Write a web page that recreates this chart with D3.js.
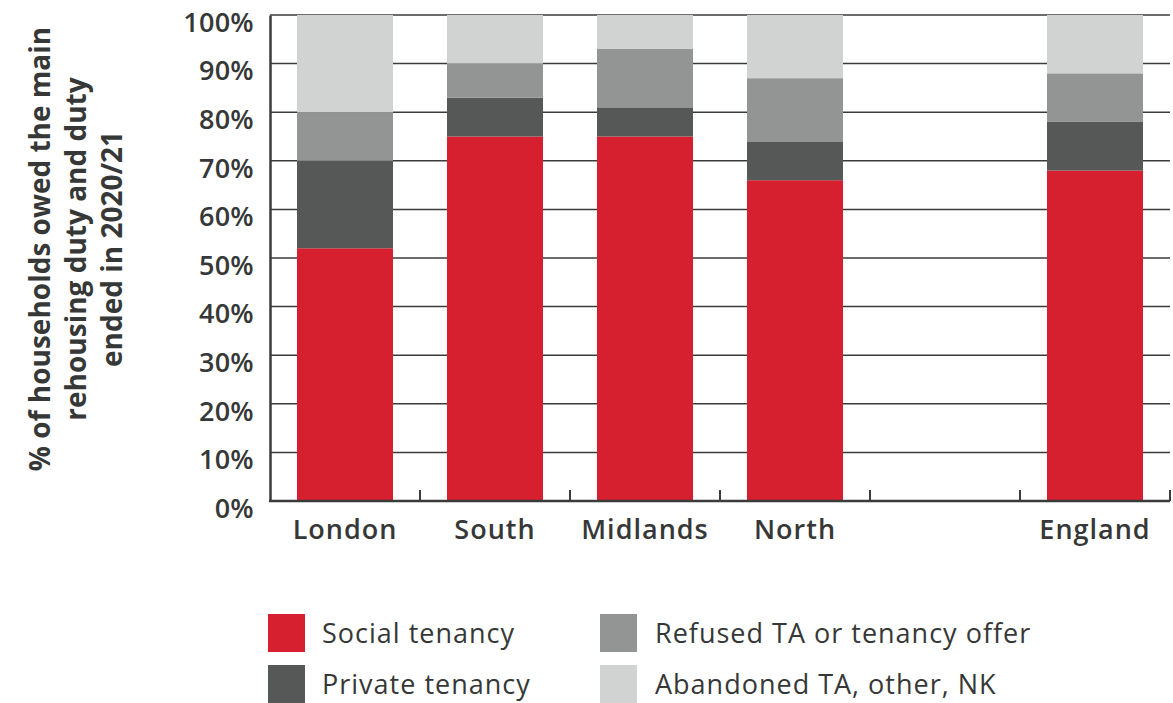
<!DOCTYPE html>
<html>
<head>
<meta charset="utf-8">
<script src="https://cdn.jsdelivr.net/npm/d3@7"></script>
<style>
  body { margin: 0; background: #fff; }
  text { font-family: "Open Sans", sans-serif; fill: #363837; }
</style>
</head>
<body>
<div id="chart"></div>
<script>
// data (percent of households)
var regions = ["London", "South", "Midlands", "North", "", "England"];
var seriesNames = ["Social tenancy", "Private tenancy", "Refused TA or tenancy offer", "Abandoned TA, other, NK"];
var socialTenancy = [52, 75, 75, 66, null, 68];
var privateTenancy = [18, 8, 6, 8, null, 10];
var refusedOffer = [10, 7, 12, 13, null, 10];
var abandonedOther = [20, 10, 7, 13, null, 12];
var yTicks = [0, 10, 20, 30, 40, 50, 60, 70, 80, 90, 100];
var colours = ["#d6202f", "#565857", "#939594", "#d1d3d2"];

var width = 1173, height = 703;
var margin = {top: 15, right: 3, bottom: 202, left: 270};

var svg = d3.select("#chart")
    .append("svg")
    .attr("width", width)
    .attr("height", height);

var x = d3.scaleBand()
    .domain(d3.range(regions.length))
    .range([margin.left, width - margin.right])
    .paddingInner(0.36)
    .paddingOuter(0.18);

var y = d3.scaleLinear()
    .domain([0, 100])
    .range([height - margin.bottom, margin.top]);

// build rows for the stack
var rows = regions.map(function(r, i) {
  return {
    i: i,
    s0: socialTenancy[i] || 0,
    s1: privateTenancy[i] || 0,
    s2: refusedOffer[i] || 0,
    s3: abandonedOther[i] || 0,
    empty: socialTenancy[i] == null
  };
}).filter(function(d) { return !d.empty; });

var stack = d3.stack().keys(["s0", "s1", "s2", "s3"]);
var stacked = stack(rows);

// gridlines
svg.append("g")
  .selectAll("line")
  .data(yTicks.filter(function(t) { return t > 0; }))
  .join("line")
    .attr("x1", margin.left)
    .attr("x2", width - margin.right)
    .attr("y1", function(d) { return y(d); })
    .attr("y2", function(d) { return y(d); })
    .attr("stroke", "#3a3b3b")
    .attr("stroke-width", 1.5);

// bars
svg.append("g")
  .selectAll("g")
  .data(stacked)
  .join("g")
    .attr("fill", function(d, k) { return colours[k]; })
  .selectAll("rect")
  .data(function(d) { return d; })
  .join("rect")
    .attr("x", function(d) { return x(d.data.i); })
    .attr("width", x.bandwidth())
    .attr("y", function(d) { return y(d[1]); })
    .attr("height", function(d) { return y(d[0]) - y(d[1]); });

// y axis
var yAxis = svg.append("g")
    .attr("transform", "translate(" + margin.left + ",0)")
    .call(d3.axisLeft(y).tickValues(yTicks).tickSize(0).tickPadding(16)
      .tickFormat(function(d) { return d + "%"; }));
yAxis.select(".domain").attr("stroke", "#3a3b3b").attr("stroke-width", 2.5);
yAxis.selectAll("text")
    .attr("dy", "0.6em")
    .style("font-size", "27px")
    .style("font-weight", 600)
    .style("letter-spacing", "0.3px")
    .attr("fill", "#363837");

// x axis: ticks between bands pointing up
var xBase = y(0);
var tickPos = d3.range(regions.length).map(function(i) { return x(i) + x.bandwidth() + x.step() * x.paddingInner() / 2; });
svg.append("line")
    .attr("x1", margin.left - 1)
    .attr("x2", width - margin.right)
    .attr("y1", xBase)
    .attr("y2", xBase)
    .attr("stroke", "#3a3b3b")
    .attr("stroke-width", 2.5);
svg.append("g")
  .selectAll("line")
  .data(tickPos)
  .join("line")
    .attr("x1", function(d) { return d; })
    .attr("x2", function(d) { return d; })
    .attr("y1", xBase)
    .attr("y2", xBase - 11)
    .attr("stroke", "#3a3b3b")
    .attr("stroke-width", 2);

svg.append("g")
  .selectAll("text")
  .data(regions)
  .join("text")
    .attr("x", function(d, i) { return x(i) + x.bandwidth() / 2; })
    .attr("y", xBase + 38)
    .attr("text-anchor", "middle")
    .style("font-size", "27px")
    .style("font-weight", 600)
    .style("letter-spacing", "1px")
    .text(function(d) { return d; });

// y title
var titleLines = ["% of households owed the main", "rehousing duty and duty", "ended in 2020/21"];
svg.append("g")
    .attr("transform", "translate(40,249) rotate(-90)")
  .selectAll("text")
  .data(titleLines)
  .join("text")
    .attr("x", 0)
    .attr("y", function(d, i) { return i * 36 + 10; })
    .attr("text-anchor", "middle")
    .style("font-size", "28px")
    .style("font-weight", 700)
    .text(function(d) { return d; });

// legend
var legendPos = [[268, 614], [268, 665], [600, 614], [600, 665]];
var legend = svg.append("g")
  .selectAll("g")
  .data(seriesNames)
  .join("g")
    .attr("transform", function(d, k) { return "translate(" + legendPos[k][0] + "," + legendPos[k][1] + ")"; });
legend.append("rect")
    .attr("width", 37)
    .attr("height", 38)
    .attr("fill", function(d, k) { return colours[k]; });
legend.append("text")
    .attr("x", function(d, k) { return k < 2 ? 54 : 55; })
    .attr("y", 29)
    .style("font-size", "27px")
    .style("letter-spacing", "1px")
    .text(function(d) { return d; });
</script>
</body>
</html>
